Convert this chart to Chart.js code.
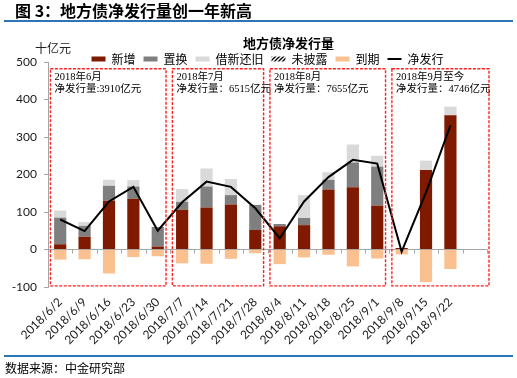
<!DOCTYPE html>
<html><head><meta charset="utf-8">
<script src="https://cdn.jsdelivr.net/npm/chart.js@4.4.1/dist/chart.umd.min.js"></script>
<style>
html,body{margin:0;padding:0;background:#fff;width:517px;height:378px;overflow:hidden;}
#wrap{position:relative;width:517px;height:378px;}
canvas{position:absolute;left:0;top:0;}
.hdr{position:absolute;left:15px;top:0px;font:bold 16px 'Noto Sans CJK SC';color:#000;line-height:20px;white-space:nowrap;}
.hline{position:absolute;left:4px;width:509px;height:2px;background:#2E75B6;}
.unit{position:absolute;left:35px;top:40px;font:12px 'Noto Sans CJK SC';line-height:16px;color:#222;}
.src{position:absolute;left:5px;top:360px;font:12px 'Noto Sans CJK SC';line-height:16px;color:#000;}
</style></head>
<body><div id="wrap">
<canvas id="c" width="517" height="378"></canvas>
<div class="hdr">图 3：地方债净发行量创一年新高</div>
<div class="hline" style="top:20px"></div>
<div class="unit">十亿元</div>
<div class="hline" style="top:355px"></div>
<div class="src">数据来源：中金研究部</div>
</div>
<script>
// ---- data (十亿元) ----
const categories = ['2018/6/2','2018/6/9','2018/6/16','2018/6/23','2018/6/30','2018/7/7','2018/7/14','2018/7/21','2018/7/28','2018/8/4','2018/8/11','2018/8/18','2018/8/25','2018/9/1','2018/9/8','2018/9/15','2018/9/22',''];
const newIssue    = [14, 34, 130, 135, 8, 106, 112, 120, 52, 62, 65, 160, 166, 117, 4, 212, 358, null];
const replacement = [71, 29, 40, 33, 52, 21, 56, 25, 67, 6, 19, 26, 66, 104, 0, 0, 0, null];
const rollover    = [19, 10, 16, 17, 0, 34, 48, 43, 0, 0, 61, 20, 48, 29, 0, 25, 23, null];
const undisclosed = [0, 0, 0, 0, 0, 0, 0, 0, 0, 0, 0, 0, 0, 0, 0, 0, 0, null];
const maturity    = [-27, -26, -64, -20, -18, -37, -38, -25, -10, -39, -21, -14, -45, -24, -13, -87, -52, null];
const netIssue    = [80, 49, 128, 167, 50, 126, 181, 167, 110, 30, 128, 193, 239, 229, -6, 152, 331, null];
const yTicks = [-100, 0, 100, 200, 300, 400, 500];
// month groups
const boxFrom   = ['2018/6/2','2018/7/7','2018/8/4','2018/9/8'];
const boxTo     = ['2018/6/30','2018/7/28','2018/9/1','2018/9/22'];
const boxTitles = ['2018年6月','2018年7月','2018年8月','2018年9月至今'];
const boxNotes  = ['净发行量:3910亿元','净发行量：6515亿元','净发行量：7655亿元','净发行量：4746亿元'];

function hatchPattern(){
  const c=document.createElement('canvas'); c.width=4; c.height=4;
  const g=c.getContext('2d'); g.strokeStyle='#000'; g.lineWidth=1.3;
  g.beginPath(); g.moveTo(0,4); g.lineTo(4,0); g.moveTo(-1,1); g.lineTo(1,-1); g.moveTo(3,5); g.lineTo(5,3); g.stroke();
  return g.createPattern(c,'repeat');
}

const layoutTweak = {
  id:'layoutTweak',
  afterInit(chart){
    const lg=chart.legend; const lu=lg.update.bind(lg);
    lg.update=function(a,b,c){ lu(a,b,c); this.height=0; };
    const tb=chart.titleBlock; const tu=tb.update.bind(tb);
    tb.update=function(a,b,c){ tu(a,b,c); this.height=0; };
  },
  afterLayout(chart){
    const ca=chart.chartArea;
    const tb=chart.titleBlock;
    tb.top=ca.top-27; tb.bottom=tb.top+16; tb.left=ca.left+21; tb.right=ca.right+21;
    const lg=chart.legend;
    lg.top=ca.top-17; lg.bottom=lg.top+40; lg.left=ca.left; lg.right=ca.right;
  }
};

const zeroTicks = {
  id:'zeroTicks',
  beforeDatasetsDraw(chart){
    const {ctx, scales:{x,y}} = chart;
    const step = x.getPixelForValue(1)-x.getPixelForValue(0);
    const y0 = y.getPixelForValue(0);
    ctx.save(); ctx.strokeStyle='#A6A6A6'; ctx.lineWidth=1;
    for(let i=0;i<=categories.length;i++){
      const px=Math.round(x.getPixelForValue(i)-step/2)+0.5;
      ctx.beginPath(); ctx.moveTo(px,y0); ctx.lineTo(px,y0+4); ctx.stroke();
    }
    ctx.restore();
  }
};

const monthBoxes = {
  id:'monthBoxes',
  afterDatasetsDraw(chart){
    const {ctx, scales:{x,y}, chartArea:ca} = chart;
    const step = x.getPixelForValue(1)-x.getPixelForValue(0);
    const t = y.getPixelForValue(482), b = y.getPixelForValue(-97);
    ctx.save();
    boxFrom.forEach((s,i)=>{
      const l = x.getPixelForValue(categories.indexOf(s)) - 0.4*step;
      const r = (i===boxFrom.length-1) ? ca.right+2 : x.getPixelForValue(categories.indexOf(boxTo[i])) + 0.34*step;
      ctx.setLineDash([3,1.5]); ctx.strokeStyle='#FF2020'; ctx.lineWidth=1.4;
      ctx.strokeRect(l,t,r-l,b-t);
      ctx.setLineDash([]); ctx.fillStyle='#000';
      ctx.font="10.5px 'Liberation Serif','Noto Sans CJK SC'"; ctx.textBaseline='middle'; ctx.textAlign='left';
      ctx.fillText(boxTitles[i], l+4, t+8.5);
      ctx.fillText(boxNotes[i], l+4, t+20.5);
    });
    ctx.restore();
  }
};

const tickFont = {family:'Lato', size:12};
new Chart(document.getElementById('c'), {
  data:{
    labels:categories,
    datasets:[
      {type:'bar', label:'新增', data:newIssue, backgroundColor:'#7F1900', stack:'s', pointStyle:'rect', borderWidth:0},
      {type:'bar', label:'置换', data:replacement, backgroundColor:'#7F7F7F', stack:'s', pointStyle:'rect', borderWidth:0},
      {type:'bar', label:'借新还旧', data:rollover, backgroundColor:'#D9D9D9', stack:'s', pointStyle:'rect', borderWidth:0},
      {type:'bar', label:'未披露', data:undisclosed, backgroundColor:hatchPattern(), stack:'s', pointStyle:'rect', borderWidth:0},
      {type:'bar', label:'到期', data:maturity, backgroundColor:'#FAC090', stack:'s', pointStyle:'rect', borderWidth:0},
      {type:'line', label:'净发行', data:netIssue, borderColor:'#000', backgroundColor:'#000', borderWidth:2, pointRadius:0, pointStyle:'line', stack:'net', order:-1, tension:0, fill:false}
    ]
  },
  options:{
    responsive:false, animation:false, devicePixelRatio:1,
    layout:{padding:{left:0, right:30, top:62, bottom:0}},
    datasets:{bar:{barPercentage:0.5, categoryPercentage:1}},
    plugins:{
      tooltip:{enabled:false},
      title:{display:true, text:'地方债净发行量', color:'#000', padding:0, fullSize:false,
        font:{family:"'Noto Sans CJK SC'", size:13, weight:'bold'}},
      legend:{display:true, position:'top', fullSize:false, align:'center',
        labels:{usePointStyle:true, pointStyleWidth:14, boxWidth:14, boxHeight:5, padding:8, color:'#000',
          font:{family:"'Noto Sans CJK SC'", size:12}, sort:(a,b)=>a.datasetIndex-b.datasetIndex}}
    },
    scales:{
      x:{stacked:true, offset:true, grid:{display:false, drawTicks:false}, border:{display:false},
        ticks:{autoSkip:false, maxRotation:45, minRotation:45, padding:8, color:'#1a1a1a', font:tickFont},
        afterFit(s){ s.height=91; }},
      y:{stacked:true, min:-100, max:500,
        afterBuildTicks(s){ s.ticks = yTicks.map(v=>({value:v})); },
        ticks:{padding:7, color:'#1a1a1a', font:tickFont},
        grid:{color:c=>(c.tick && c.tick.value===0)?'#A6A6A6':'rgba(0,0,0,0)', tickColor:'#A6A6A6', tickLength:4, lineWidth:1},
        border:{color:'#A6A6A6'},
        afterFit(s){ s.width=48; }}
    }
  },
  plugins:[layoutTweak, zeroTicks, monthBoxes]
});
</script>
</body></html>
